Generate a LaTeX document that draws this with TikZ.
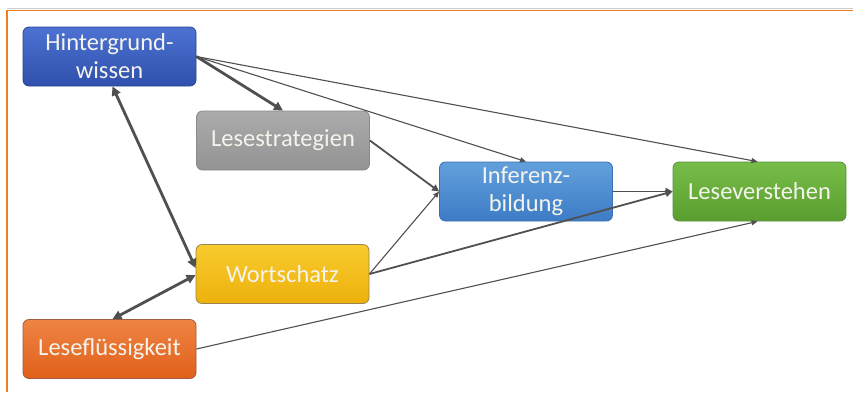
\documentclass[tikz,border=0pt]{standalone}
\usepackage{fontspec}
\setmainfont{Carlito}
\usetikzlibrary{arrows.meta,calc}
\definecolor{arr}{HTML}{505050}
\definecolor{frameor}{HTML}{F07F22}
\definecolor{hT}{HTML}{4D72D2}\definecolor{hB}{HTML}{2F50AC}\definecolor{hD}{HTML}{2A4590}
\definecolor{lT}{HTML}{ABABAB}\definecolor{lB}{HTML}{939393}\definecolor{lD}{HTML}{8A8A8A}
\definecolor{iT}{HTML}{62A0DC}\definecolor{iB}{HTML}{3D7CC6}\definecolor{iD}{HTML}{3A70B0}
\definecolor{vT}{HTML}{78BC48}\definecolor{vB}{HTML}{5A9E30}\definecolor{vD}{HTML}{5A9040}
\definecolor{wT}{HTML}{F8CB2E}\definecolor{wB}{HTML}{EDB10C}\definecolor{wD}{HTML}{9A8550}
\definecolor{fT}{HTML}{EF8444}\definecolor{fB}{HTML}{E0601A}\definecolor{fD}{HTML}{A05A40}
\definecolor{txt}{HTML}{F4F4EC}
\tikzset{
  box/.style={draw=#1D, line width=0.8pt, rounded corners=6pt, minimum width=173pt, minimum height=59pt,
    top color=#1T, bottom color=#1B,
    text=txt, font=\fontsize{24.5}{28}\selectfont, align=center, inner sep=0pt},
  thickarr/.style={draw=arr, line width=2.8pt, -{Triangle[length=9pt,width=9pt]}},
  medarr/.style={draw=arr, line width=1.8pt, -{Triangle[length=7pt,width=7pt]}},
  thinarr/.style={draw=arr, line width=1.1pt, -{Triangle[length=6pt,width=5pt]}},
  dblarr/.style={draw=arr, line width=2.8pt, {Triangle[length=9pt,width=9pt]}-{Triangle[length=9pt,width=9pt]}},
}
\begin{document}
\begin{tikzpicture}[x=1pt,y=-1pt]
\useasboundingbox (0,0) rectangle (853,392);
\fill[white] (0,0) rectangle (853,392);
\draw[gray!40, line width=0.6pt] (7,8.5) -- (853,8.5);
\draw[frameor, line width=1.6pt] (853,10.5) -- (7,10.5) -- (7,392);

\node[box=h] (H) at (109.5,56.5) {Hintergrund-\\wissen};
\node[box=l] (L) at (283,140.5) {Lesestrategien};
\node[box=i] (I) at (526,191.5) {Inferenz-\\bildung};
\node[box=v] (V) at (759.5,191.5) {Leseverstehen};
\node[box=w] (W) at (282.5,274) {Wortschatz};
\node[box=f] (F) at (109.5,349) {Leseflüssigkeit};

\draw[thickarr] (H.east) -- (L.north);
\draw[thinarr] (H.east) -- (I.north);
\draw[thinarr] (H.east) -- ([xshift=-2pt]V.north);
\draw[dblarr] ([xshift=3pt]H.south) -- ([yshift=6pt]W.west);
\draw[dblarr] ([yshift=-1pt]W.west) -- ([xshift=3pt]F.north);
\draw[medarr] (L.east) -- (I.west);
\draw[thinarr] (W.east) -- (I.west);
\draw[medarr] (W.east) -- (V.west);
\draw[medarr] (I.east) -- (V.west);
\draw[thinarr] (F.east) -- ([xshift=-2pt]V.south);
\end{tikzpicture}
\end{document}
